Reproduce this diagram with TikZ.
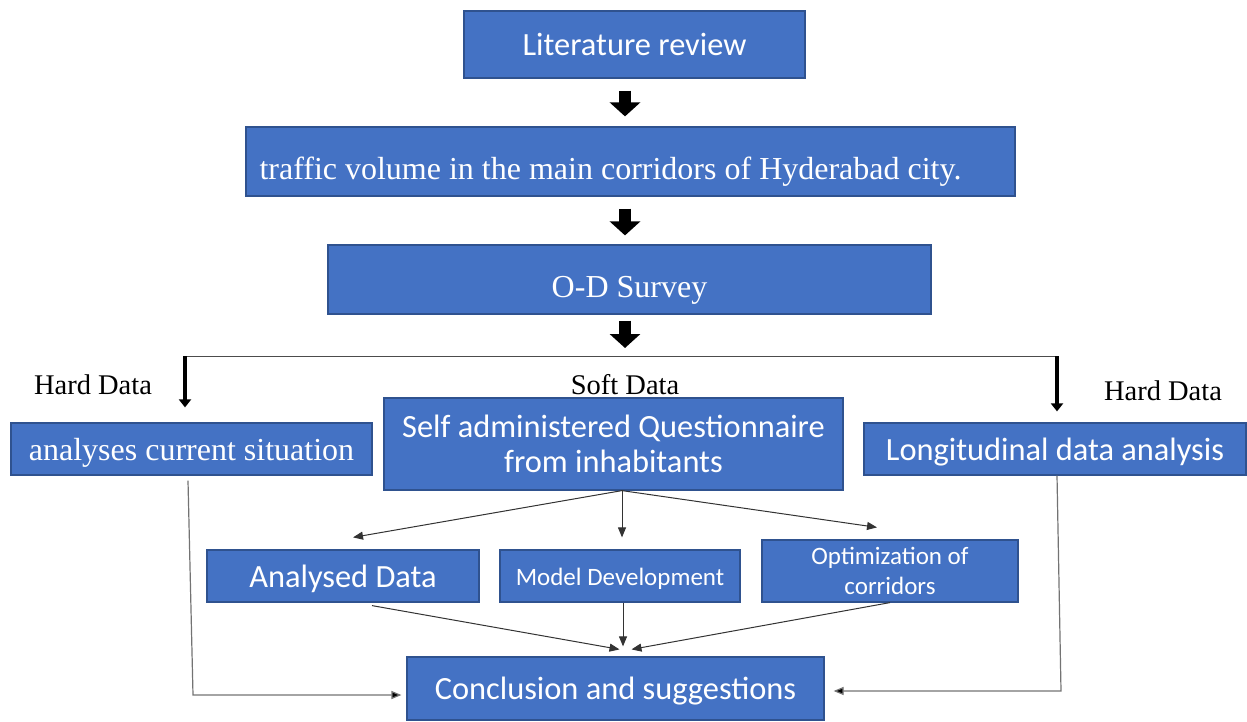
\documentclass[tikz,border=0pt]{standalone}
\usepackage{fontspec}
\setmainfont{Liberation Serif}
\newfontfamily\calib{Carlito}
\usetikzlibrary{arrows.meta}
\definecolor{boxblue}{HTML}{4472C4}
\definecolor{boxedge}{HTML}{2F528F}
\tikzset{
  box/.style={draw=boxedge, line width=1.2pt, fill=boxblue, text=white, inner sep=0pt, align=center},
  sansbig/.style={font=\calib\fontsize{32.4}{35}\selectfont},
  sanssmall/.style={font=\calib\fontsize{25}{30}\selectfont},
  serifbig/.style={font=\fontsize{32}{36}\selectfont},
  lowtext/.style={text height=40pt, text depth=4pt},
  onerow/.style={text height=28pt, text depth=6pt},
  lbl/.style={inner sep=0pt, font=\fontsize{28.5}{32}\selectfont},
  fat/.style={line width=12pt, -{Triangle[width=30pt,length=14pt]}},
  hard/.style={line width=4pt, -{Triangle[width=12pt,length=8pt]}},
  link/.style={draw=black!80, line width=1pt, -{Triangle[width=8pt,length=10pt]}},
  longlink/.style={draw=black!55, line width=1.2pt, -{Triangle[width=8pt,length=10pt,fill=black]}}
}
\begin{document}
\begin{tikzpicture}[x=1pt,y=-1pt]
    \useasboundingbox (0,0) rectangle (1247,722);
    \node[box, sansbig, onerow, minimum width=341pt, minimum height=67pt] (lit) at (634.5,44.5) {Literature review};
    \node[box, serifbig, lowtext, minimum width=769pt, minimum height=69pt] (traf) at (630.5,161.5) {traffic volume in the main corridors of Hyderabad city.\hspace*{40pt}};
    \node[box, serifbig, lowtext, minimum width=603pt, minimum height=69pt] (ods) at (629.5,279.5) {O-D Survey};
    \coordinate (split) at (625,356);
    \coordinate (hl) at (185,356);
    \coordinate (hr) at (1057,356);
    \node[lbl] (hdl) at (93,385) {Hard Data};
    \node[lbl] (sdt) at (625,385) {Soft Data};
    \node[lbl] (hdr) at (1163,391) {Hard Data};
    \node[box, serifbig, onerow, minimum width=361pt, minimum height=52pt] (sit) at (191.5,449) {analyses current situation};
    \node[box, sansbig, minimum width=459pt, minimum height=92pt] (quest) at (613.5,444) {Self administered Questionnaire\\from inhabitants};
    \node[box, sansbig, onerow, minimum width=382pt, minimum height=52pt] (longi) at (1055,449) {Longitudinal data analysis};
    \node[box, sansbig, onerow, minimum width=272pt, minimum height=52pt] (ana) at (343,576) {Analysed Data};
    \node[box, sanssmall, text height=23pt, text depth=5pt, minimum width=240pt, minimum height=52pt] (mod) at (620,576) {Model Development};
    \node[box, sanssmall, minimum width=256pt, minimum height=62pt] (opt) at (890,571) {Optimization of\\corridors};
    \node[box, sansbig, onerow, minimum width=417pt, minimum height=63pt] (conc) at (615.5,688.5) {Conclusion and suggestions};
    \coordinate (lb) at (193,695);
    \coordinate (rb) at (1061,691);
    \draw[fat] ([xshift=-9.5pt,yshift=-12pt]lit.south) -- ([xshift=-5.5pt,yshift=10pt]traf.north);
    \draw[fat] ([xshift=-5.5pt,yshift=-12pt]traf.south) -- ([xshift=-4.5pt,yshift=9pt]ods.north);
    \draw[fat] ([xshift=-4.5pt,yshift=-6pt]ods.south) -- ([yshift=8pt]split);
    \draw[black!70, line width=1pt] (hl) -- (hr);
    \draw[hard] (hl) -- ([yshift=15pt]hl |- sit.north);
    \draw[hard] (hr) -- ([yshift=11pt]hr |- longi.north);
    \draw[link] ([xshift=8.5pt]quest.south) -- ([xshift=10pt,yshift=12pt]ana.north);
    \draw[link] ([xshift=8.5pt]quest.south) -- ([xshift=2pt,yshift=12pt]mod.north);
    \draw[link] ([xshift=8.5pt]quest.south) -- ([xshift=-13pt,yshift=12pt]opt.north);
    \draw[link] ([xshift=29pt,yshift=-3pt]ana.south) -- ([xshift=4pt,yshift=7pt]conc.north);
    \draw[link] ([xshift=3pt]mod.south) -- ([xshift=7.5pt,yshift=10pt]conc.north);
    \draw[link] (opt.south) -- ([xshift=16pt,yshift=7pt]conc.north);
    \draw[longlink] ([xshift=-3.5pt,yshift=-5pt]sit.south) -- (lb) -- ([xshift=-5pt]lb -| conc.west);
    \draw[longlink] ([xshift=2pt]longi.south) -- (rb) -- ([xshift=9pt]rb -| conc.east);
\end{tikzpicture}
\end{document}
